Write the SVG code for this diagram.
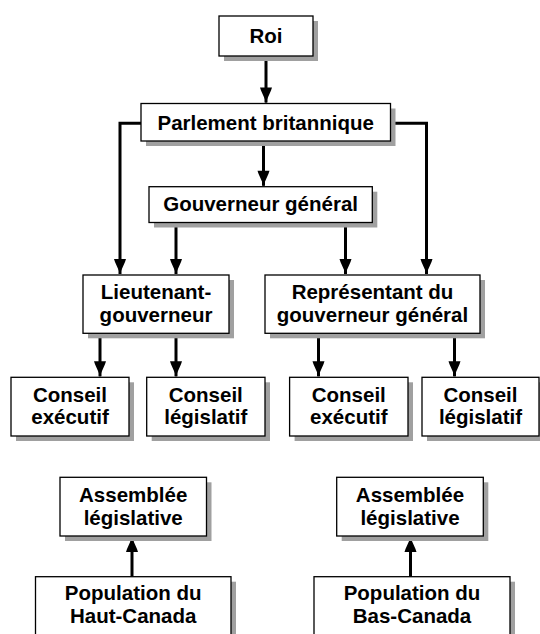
<svg xmlns="http://www.w3.org/2000/svg" width="540" height="634" viewBox="0 0 540 634">
<style>
.box{fill:#fff;stroke:#000;stroke-width:1.3}
.sh{fill:#a0a0a0}
.t{font-family:"Liberation Sans",Arial,sans-serif;font-weight:bold;font-size:20.5px;fill:#000;text-anchor:middle}
.c{fill:none;stroke:#000;stroke-width:3}
</style>
<defs>
<marker id="ah" markerUnits="userSpaceOnUse" markerWidth="20" markerHeight="16" viewBox="-17 -8 20 16" refX="0" refY="0" orient="auto" overflow="visible">
<path d="M-15,-6 L-15,6 L-12,5 L-3,1 L0,1 L0,-1 L-3,-1 L-12,-5 Z" fill="#000"/>
</marker>
</defs>
<rect width="540" height="634" fill="#fff"/>
<g id="connectors">
<path class="c" d="M266,56 V102.5" marker-end="url(#ah)"/>
<path class="c" d="M263.5,141 V185.7" marker-end="url(#ah)"/>
<path class="c" d="M141,123.3 H120 V274" marker-end="url(#ah)"/>
<path class="c" d="M390,123.3 H426.5 V274" marker-end="url(#ah)"/>
<path class="c" d="M176,222.5 V274" marker-end="url(#ah)"/>
<path class="c" d="M345.5,222.5 V274" marker-end="url(#ah)"/>
<path class="c" d="M100,333.3 V376.3" marker-end="url(#ah)"/>
<path class="c" d="M176,333.3 V376.3" marker-end="url(#ah)"/>
<path class="c" d="M318.5,333.3 V376.3" marker-end="url(#ah)"/>
<path class="c" d="M454.5,333.3 V376.3" marker-end="url(#ah)"/>
<path class="c" d="M132,576.7 V537" marker-end="url(#ah)"/>
<path class="c" d="M410.5,576.7 V537" marker-end="url(#ah)"/>
</g>
<g id="roi">
<rect class="sh" x="224" y="21" width="94" height="40"/>
<rect class="box" x="219" y="16" width="94" height="40"/>
<text class="t" x="266" y="43">Roi</text>
</g>
<g id="parlement">
<rect class="sh" x="146" y="108.5" width="249.5" height="37.5"/>
<rect class="box" x="141" y="103.5" width="249.5" height="37.5"/>
<text class="t" x="265.7" y="129.5">Parlement britannique</text>
</g>
<g id="gouverneur">
<rect class="sh" x="154" y="191.7" width="223.3" height="35.8"/>
<rect class="box" x="149" y="186.7" width="223.3" height="35.8"/>
<text class="t" x="260.6" y="210.5">Gouverneur général</text>
</g>
<g id="lieutenant">
<rect class="sh" x="88" y="280" width="146" height="58.3"/>
<rect class="box" x="83" y="275" width="146" height="58.3"/>
<text class="t" x="156" y="298.5">Lieutenant-</text>
<text class="t" x="156" y="322">gouverneur</text>
</g>
<g id="representant">
<rect class="sh" x="270" y="280" width="215" height="58.3"/>
<rect class="box" x="265" y="275" width="215" height="58.3"/>
<text class="t" x="372.5" y="298.5">Représentant du</text>
<text class="t" x="372.5" y="322">gouverneur général</text>
</g>
<g id="conseil-exec-haut">
<rect class="sh" x="16" y="382.3" width="118" height="58.7"/>
<rect class="box" x="11" y="377.3" width="118" height="58.7"/>
<text class="t" x="70" y="401.7">Conseil</text>
<text class="t" x="70" y="424.3">exécutif</text>
</g>
<g id="conseil-leg-haut">
<rect class="sh" x="151.7" y="382.3" width="118.3" height="58.7"/>
<rect class="box" x="146.7" y="377.3" width="118.3" height="58.7"/>
<text class="t" x="205.8" y="401.7">Conseil</text>
<text class="t" x="205.8" y="424.3">législatif</text>
</g>
<g id="conseil-exec-bas">
<rect class="sh" x="294.6" y="382.3" width="118.4" height="58.7"/>
<rect class="box" x="289.6" y="377.3" width="118.4" height="58.7"/>
<text class="t" x="348.8" y="401.7">Conseil</text>
<text class="t" x="348.8" y="424.3">exécutif</text>
</g>
<g id="conseil-leg-bas">
<rect class="sh" x="427" y="382.3" width="117" height="58.7"/>
<rect class="box" x="422" y="377.3" width="117" height="58.7"/>
<text class="t" x="480.5" y="401.7">Conseil</text>
<text class="t" x="480.5" y="424.3">législatif</text>
</g>
<g id="assemblee-haut">
<rect class="sh" x="65" y="482.3" width="146.5" height="58.7"/>
<rect class="box" x="60" y="477.3" width="146.5" height="58.7"/>
<text class="t" x="133.2" y="501.7">Assemblée</text>
<text class="t" x="133.2" y="525">législative</text>
</g>
<g id="assemblee-bas">
<rect class="sh" x="341.7" y="482.3" width="146.6" height="58.7"/>
<rect class="box" x="336.7" y="477.3" width="146.6" height="58.7"/>
<text class="t" x="410" y="501.7">Assemblée</text>
<text class="t" x="410" y="525">législative</text>
</g>
<g id="population-haut">
<rect class="sh" x="40.5" y="581.7" width="195.5" height="70"/>
<rect class="box" x="35.5" y="576.7" width="195.5" height="70"/>
<text class="t" x="133.2" y="600">Population du</text>
<text class="t" x="133.2" y="623">Haut-Canada</text>
</g>
<g id="population-bas">
<rect class="sh" x="319" y="581.7" width="196" height="70"/>
<rect class="box" x="314" y="576.7" width="196" height="70"/>
<text class="t" x="412" y="600">Population du</text>
<text class="t" x="412" y="623">Bas-Canada</text>
</g>
</svg>
